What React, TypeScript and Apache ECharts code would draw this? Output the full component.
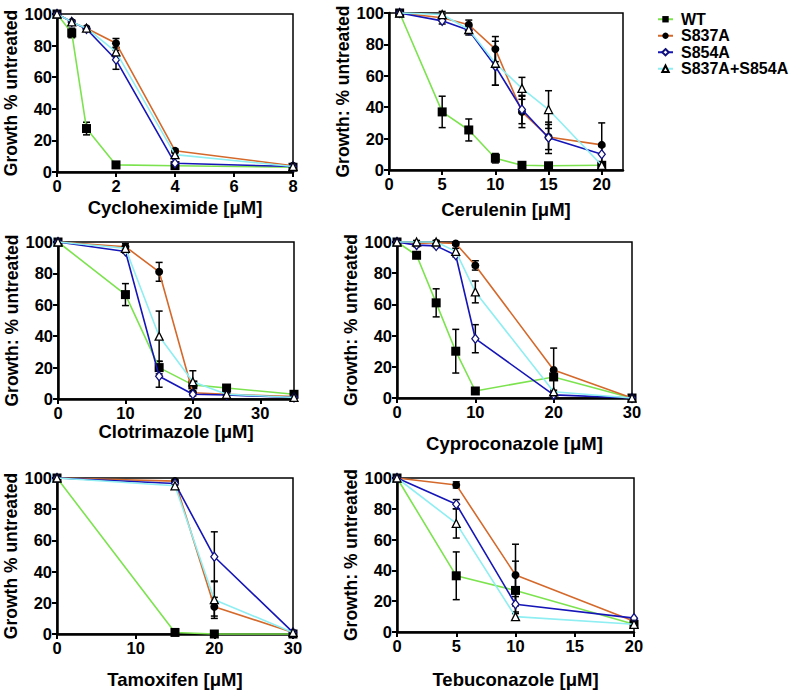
import React, { useEffect, useRef } from 'react';
import * as echarts from 'echarts';

const strains = ['WT', 'S837A', 'S854A', 'S837A+S854A'];
const yTicks = [0, 20, 40, 60, 80, 100];

// Cycloheximide
const cycloDoses = [0, 0.5, 1, 2, 4, 8];
const cycloWT = [100, 88, 27.5, 4.5, 4, 3];
const cycloS837A = [100, 95, 91, 81.5, 13.5, 4];
const cycloS854A = [100, 95, 90.5, 71, 5.5, 3.5];
const cycloDouble = [100, 95, 91, 76, 11, 3.5];
const cycloErrWT = [0, 3, 4, 0, 1, 0];
const cycloErrS837A = [0, 1, 1, 3, 1, 0];
const cycloErrS854A = [0, 1, 1, 6, 1, 0];
const cycloErrDouble = [0, 1, 1, 3, 1, 0];
const cycloXTicks = [0, 2, 4, 6, 8];

// Cerulenin
const ceruDoses = [1, 5, 7.5, 10, 12.5, 15, 20];
const ceruWT = [100, 37, 25.5, 7.5, 3, 2.7, 3];
const ceruS837A = [100, 97, 92.5, 77, 37, 21, 16];
const ceruS854A = [100, 95, 89, 66, 38.5, 20.5, 10];
const ceruDouble = [100, 99, 89.5, 68, 52, 38.5, 3];
const ceruErrWT = [0, 10, 7, 3, 0, 0, 0];
const ceruErrS837A = [0, 2, 3, 8, 10, 8, 14];
const ceruErrS854A = [0, 2, 3, 12, 9, 10, 5];
const ceruErrDouble = [0, 2, 2, 14, 7, 12, 2];
const ceruXTicks = [0, 5, 10, 15, 20];

// Clotrimazole
const clotDoses = [0, 10, 15, 20, 25, 35];
const clotWT = [100, 66.5, 20, 9, 7, 3];
const clotS837A = [100, 97, 81, 4, 3, 1.5];
const clotS854A = [100, 94, 14.5, 3, 2.5, 1];
const clotDouble = [100, 96, 40, 11, 3, 1];
const clotErrWT = [0, 7, 4, 2, 1, 0];
const clotErrS837A = [0, 2, 6, 1, 1, 0];
const clotErrS854A = [0, 1, 7, 1, 0, 0];
const clotErrDouble = [0, 1, 16, 7, 1, 0];
const clotXTicks = [0, 10, 20, 30];

// Cyproconazole
const cyproDoses = [0, 2.5, 5, 7.5, 10, 20, 30];
const cyproWT = [100, 91.5, 61, 30, 4.5, 13.5, 0];
const cyproS837A = [100, 99, 99.5, 99, 85, 18, 0];
const cyproS854A = [100, 98, 97.5, 91.5, 38, 2, 0];
const cyproDouble = [100, 100, 100, 94, 68, 4, 0];
const cyproErrWT = [0, 0, 9, 14, 0, 2, 0];
const cyproErrS837A = [0, 1, 1, 1, 3, 14, 0];
const cyproErrS854A = [0, 1, 1, 1, 9, 1, 0];
const cyproErrDouble = [0, 1, 1, 2, 7, 1, 0];
const cyproXTicks = [0, 10, 20, 30];

// Tamoxifen
const tamoDoses = [0, 15, 20, 30];
const tamoWT = [100, 1, 0, 0];
const tamoS837A = [100, 98, 17.5, 1];
const tamoS854A = [100, 96.5, 49.5, 1];
const tamoDouble = [100, 95, 22, 1];
const tamoErrWT = [0, 0, 0, 0];
const tamoErrS837A = [0, 1, 6, 0];
const tamoErrS854A = [0, 1, 16, 0];
const tamoErrDouble = [0, 2, 12, 0];
const tamoXTicks = [0, 10, 20, 30];

// Tebuconazole
const tebuDoses = [0, 5, 10, 20];
const tebuWT = [100, 36.5, 27, 5];
const tebuS837A = [100, 95.5, 37, 7];
const tebuS854A = [100, 83, 18, 9];
const tebuDouble = [100, 70.5, 10, 5];
const tebuErrWT = [0, 15.5, 19, 0];
const tebuErrS837A = [0, 2, 20, 0];
const tebuErrS854A = [0, 3, 5, 0];
const tebuErrDouble = [0, 9.5, 2, 0];
const tebuXTicks = [0, 5, 10, 15, 20];

const panels = [
  { doses: cycloDoses, values: [cycloWT, cycloS837A, cycloS854A, cycloDouble], errors: [cycloErrWT, cycloErrS837A, cycloErrS854A, cycloErrDouble], xMax: 8, xTicks: cycloXTicks, xName: 'Cycloheximide [μM]', yName: 'Growth % untreated' },
  { doses: ceruDoses, values: [ceruWT, ceruS837A, ceruS854A, ceruDouble], errors: [ceruErrWT, ceruErrS837A, ceruErrS854A, ceruErrDouble], xMax: 22, xTicks: ceruXTicks, xName: 'Cerulenin [μM]', yName: 'Growth: % untreated' },
  { doses: clotDoses, values: [clotWT, clotS837A, clotS854A, clotDouble], errors: [clotErrWT, clotErrS837A, clotErrS854A, clotErrDouble], xMax: 35, xTicks: clotXTicks, xName: 'Clotrimazole [μM]', yName: 'Growth: % untreated' },
  { doses: cyproDoses, values: [cyproWT, cyproS837A, cyproS854A, cyproDouble], errors: [cyproErrWT, cyproErrS837A, cyproErrS854A, cyproErrDouble], xMax: 30, xTicks: cyproXTicks, xName: 'Cyproconazole [μM]', yName: 'Growth: % untreated' },
  { doses: tamoDoses, values: [tamoWT, tamoS837A, tamoS854A, tamoDouble], errors: [tamoErrWT, tamoErrS837A, tamoErrS854A, tamoErrDouble], xMax: 30, xTicks: tamoXTicks, xName: 'Tamoxifen [μM]', yName: 'Growth % untreated' },
  { doses: tebuDoses, values: [tebuWT, tebuS837A, tebuS854A, tebuDouble], errors: [tebuErrWT, tebuErrS837A, tebuErrS854A, tebuErrDouble], xMax: 20, xTicks: tebuXTicks, xName: 'Tebuconazole [μM]', yName: 'Growth: % untreated' },
];

// layout (pixels)
const grids = [
  { left: 57, top: 14, width: 236, height: 158, xGap: 26 },
  { left: 389, top: 13, width: 234, height: 157, xGap: 30 },
  { left: 58, top: 242, width: 236, height: 157, xGap: 22 },
  { left: 397, top: 242, width: 235, height: 156, xGap: 36 },
  { left: 57, top: 478, width: 236, height: 157, xGap: 36 },
  { left: 397, top: 478, width: 237, height: 157, xGap: 38 },
];

const lineColors = ['#7ce34f', '#d4692b', '#1515b8', '#8eeef2'];
const symbols = ['rect', 'circle', 'diamond', 'triangle'];
const symbolSizes: any[] = [9, 8, [7, 9], 8];
const symbolFills = ['#000', '#000', '#fff', '#fff'];
const symbolBorders = ['#000', '#000', '#10107a', '#000'];

const FONT = '"Liberation Sans", Arial, Helvetica, sans-serif';

function buildOption() {
  const grid: any[] = [];
  const xAxis: any[] = [];
  const yAxis: any[] = [];
  const series: any[] = [];
  panels.forEach((p, i) => {
    const g = grids[i];
    grid.push({ left: g.left, top: g.top, width: g.width, height: g.height, show: true, borderColor: '#000', borderWidth: 1.5, backgroundColor: 'transparent' });
    xAxis.push({
      gridIndex: i, type: 'value', min: 0, max: p.xMax, interval: p.xTicks[1] - p.xTicks[0],
      name: p.xName, nameLocation: 'middle', nameGap: g.xGap,
      nameTextStyle: { fontFamily: FONT, fontWeight: 'bold', fontSize: 18.5, color: '#000' },
      axisLine: { show: true, onZero: false, lineStyle: { color: '#000', width: 2.5 } },
      axisTick: { show: true, length: 5, lineStyle: { color: '#000', width: 2 }, customValues: p.xTicks },
      axisLabel: { fontFamily: FONT, fontWeight: 'bold', fontSize: 16.5, color: '#000', margin: 5, customValues: p.xTicks },
      splitLine: { show: false },
    });
    yAxis.push({
      gridIndex: i, type: 'value', min: 0, max: 100, interval: 20,
      name: p.yName, nameLocation: 'middle', nameGap: 37,
      nameTextStyle: { fontFamily: FONT, fontWeight: 'bold', fontSize: 17.5, color: '#000' },
      axisLine: { show: true, onZero: false, lineStyle: { color: '#000', width: 2.5 } },
      axisTick: { show: true, length: 5, lineStyle: { color: '#000', width: 2 } },
      axisLabel: { fontFamily: FONT, fontWeight: 'bold', fontSize: 16.5, color: '#000', margin: 5 },
      splitLine: { show: false },
    });
    p.values.forEach((vals, s) => {
      const errs = p.errors[s];
      const errData = p.doses
        .map((d, k) => [d, vals[k] - errs[k], vals[k] + errs[k]])
        .filter((_, k) => errs[k] > 0);
      series.push({
        type: 'custom', name: 'err-' + strains[s], xAxisIndex: i, yAxisIndex: i, z: 1,
        encode: { x: 0, y: [1, 2] }, clip: false, silent: true,
        data: errData,
        renderItem: (params: any, api: any) => {
          const x = api.value(0);
          const top = api.coord([x, api.value(2)]);
          const bot = api.coord([x, api.value(1)]);
          const w = 3.5;
          const st = { stroke: '#000', lineWidth: 1.5 };
          return {
            type: 'group', children: [
              { type: 'line', shape: { x1: top[0], y1: top[1], x2: bot[0], y2: bot[1] }, style: st },
              { type: 'line', shape: { x1: top[0] - w, y1: top[1], x2: top[0] + w, y2: top[1] }, style: st },
              { type: 'line', shape: { x1: bot[0] - w, y1: bot[1], x2: bot[0] + w, y2: bot[1] }, style: st },
            ],
          };
        },
      });
      series.push({
        type: 'line', name: strains[s], xAxisIndex: i, yAxisIndex: i, z: 2 + s * 0.1,
        data: p.doses.map((d, k) => [d, vals[k]]),
        symbol: symbols[s], symbolSize: symbolSizes[s], showAllSymbol: true,
        lineStyle: { color: lineColors[s], width: 1.6 },
        itemStyle: { color: symbolFills[s], borderColor: symbolBorders[s], borderWidth: s >= 2 ? 1.3 : 0 },
        clip: false,
      });
    });
  });
  return {
    animation: false,
    backgroundColor: '#fff',
    legend: {
      data: strains, orient: 'vertical', left: 652, top: 6, itemWidth: 15, itemHeight: 8, itemGap: 0,
      selectedMode: false,
      textStyle: { fontFamily: FONT, fontWeight: 'bold', fontSize: 16, color: '#000', lineHeight: 16.5, padding: [0, 0, 0, 3] },
    },
    grid, xAxis, yAxis, series,
  };
}

export default function App() {
  const ref = useRef<HTMLDivElement>(null);
  useEffect(() => {
    const chart = echarts.init(ref.current as HTMLDivElement, null, { renderer: 'svg' });
    chart.setOption(buildOption() as any);
    return () => chart.dispose();
  }, []);
  return <div ref={ref} style={{ position: 'fixed', left: 0, top: 0, width: 800, height: 690 }} />;
}
